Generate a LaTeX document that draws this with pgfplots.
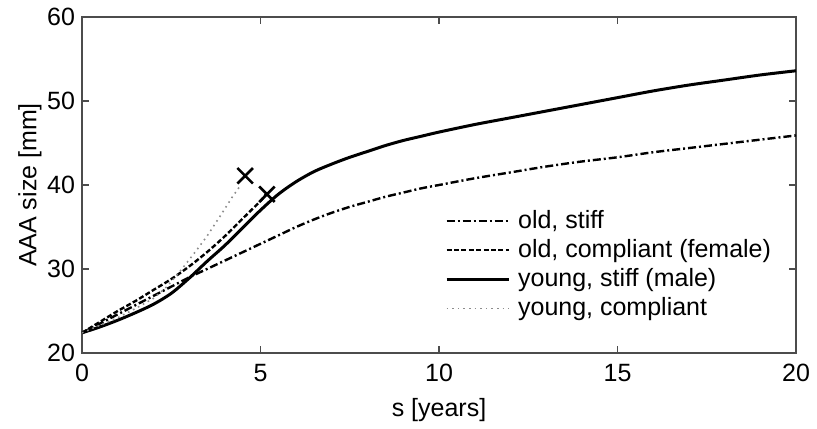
\documentclass[border=0pt]{standalone}
\usepackage{fontspec}
\setmainfont{Liberation Sans}
\usepackage{pgfplots}
\pgfplotsset{compat=1.18}
\begin{document}
\begin{tikzpicture}
\begin{axis}[
  scale only axis, width=357pt, height=168pt,
  xmin=0, xmax=20, ymin=20, ymax=60,
  xtick={0,5,10,15,20}, ytick={20,30,40,50,60},
  tick align=inside, major tick length=3.5pt,
  axis line style={line width=0.6pt, black!70},
  every tick/.style={black!70, line width=0.6pt},
  font=\fontsize{12.5}{15}\selectfont,
  /pgf/number format/assume math mode=true,
  xticklabel style={yshift=-2pt},
  xlabel={s [years]}, ylabel={AAA size [mm]},
  xlabel style={at={(axis description cs:0.5,-0.17)}, anchor=center},
  ylabel style={at={(axis description cs:-0.073,0.5)}, anchor=center, rotate=0},
  legend style={draw=none, fill=none, at={(0.508,0.4375)}, anchor=north west,
    inner xsep=0pt, inner ysep=0pt, font=\fontsize{12.5}{15}\selectfont,
    nodes={inner sep=2pt}, row sep=0pt,
    /tikz/every odd column/.append style={column sep=2pt}},
  legend cell align=left,
  legend image code/.code={\draw[#1] (0pt,0pt) -- (31pt,0pt);},
]
\addplot[black, line width=1.2pt, smooth, dash pattern=on 4pt off 1.5pt on 1pt off 1.5pt] coordinates {
(0,22.4)(0.5,23.5)(1,24.6)(1.5,25.7)(2,26.8)(2.5,27.9)(3,29.0)(3.5,30.0)(4,31.0)(4.5,32.0)
(5,33.0)(5.5,34.0)(6,35.0)(6.5,35.9)(7,36.7)(7.5,37.4)(8,38.0)(8.5,38.6)(9,39.1)(9.5,39.6)
(10,40.0)(11,40.8)(12,41.5)(13,42.2)(14,42.8)(15,43.3)(16,43.9)(17,44.4)(18,44.9)(19,45.4)(20,45.9)};
\addlegendentry{old, stiff}
\addplot[black, line width=1.2pt, smooth, dash pattern=on 2.5pt off 1.2pt] coordinates {
(0,22.4)(0.5,23.7)(1,25.0)(1.5,26.2)(2,27.5)(2.5,28.8)(3,30.3)(3.5,32.0)(4,33.9)(4.5,36.0)(5,38.1)(5.15,38.9)};
\addlegendentry{old, compliant (female)}
\addplot[black, line width=1.5pt, smooth] coordinates {
(0,22.4)(0.5,23.1)(1,23.9)(1.5,24.8)(2,25.8)(2.5,27.1)(3,28.9)(3.5,30.9)(4,32.8)(4.5,34.9)
(5,37.0)(5.5,38.9)(6,40.4)(6.5,41.6)(7,42.5)(7.5,43.3)(8,44.0)(8.5,44.7)(9,45.3)(9.5,45.8)
(10,46.3)(11,47.2)(12,48.0)(13,48.8)(14,49.6)(15,50.4)(16,51.2)(17,51.9)(18,52.5)(19,53.1)(20,53.6)};
\addlegendentry{young, stiff (male)}
\addplot[black!45, line width=0.8pt, dotted] coordinates {
(0,22.4)(0.5,23.3)(1,24.2)(1.5,25.3)(2,26.5)(2.38,27.9)(2.8,30.0)(3.22,32.3)(3.5,33.9)(3.87,36.3)(4.2,38.5)(4.43,39.9)};
\addlegendentry{young, compliant}
\addplot[only marks, mark=x, mark size=5.5pt, black, line width=1.3pt, forget plot] coordinates {(4.57,41.1)(5.18,38.9)};
\end{axis}
\path (-41pt,-36.5pt) rectangle (367.5pt,176.5pt);
\end{tikzpicture}
\end{document}
